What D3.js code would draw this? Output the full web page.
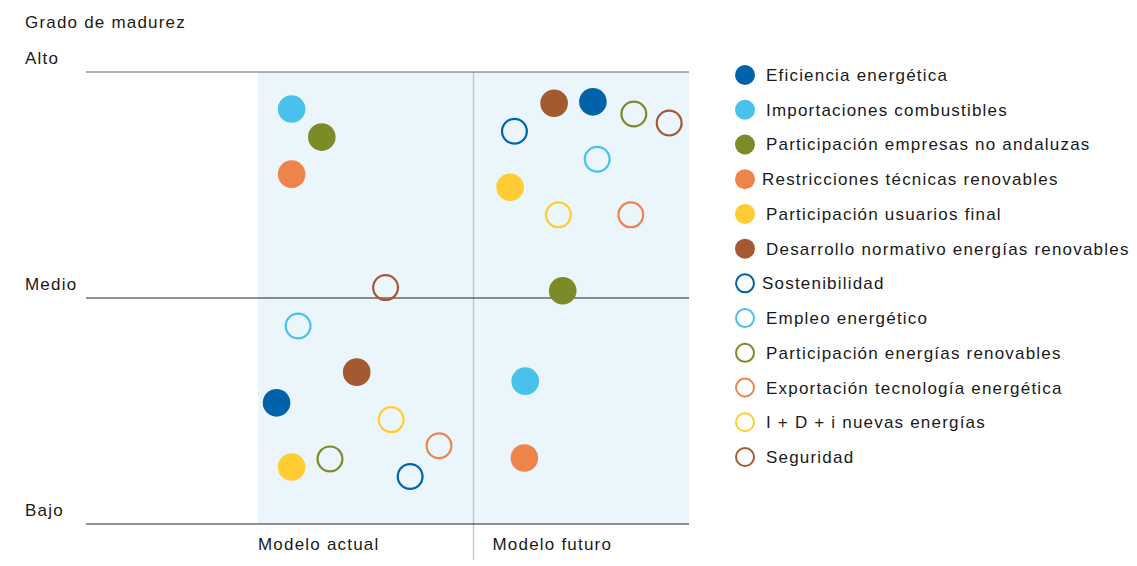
<!DOCTYPE html>
<html><head><meta charset="utf-8">
<script src="https://cdn.jsdelivr.net/npm/d3@7"></script>
<style>body{margin:0;background:#fff;} text{font-family:"Liberation Sans",Arial,sans-serif;fill:#1a1a1a;}</style>
</head><body>
<svg id="c" width="1137" height="566"></svg>
<script>
const series = ["Eficiencia energética","Importaciones combustibles","Participación empresas no andaluzas","Restricciones técnicas renovables","Participación usuarios final","Desarrollo normativo energías renovables","Sostenibilidad","Empleo energético","Participación energías renovables","Exportación tecnología energética","I + D + i nuevas energías","Seguridad"];
const colors = ["#0063a9","#48c1ec","#7c8b27","#ef844a","#ffcc33","#a35a31","#0063a9","#48c1ec","#7c8b27","#ef844a","#ffcc33","#a35a31"];
const filled = [true,true,true,true,true,true,false,false,false,false,false,false];
const models = ["Modelo actual","Modelo futuro"];
const levels = ["Bajo","Medio","Alto"];
// position within each model column (0-100 of whole plot width) and maturity (0-100)
const actualX = [4.3,7.8,14.8,7.8,7.8,22.9,35.3,9.3,16.7,42.0,30.9,29.6];
const actualY = [26.8,91.8,85.6,77.4,12.6,33.6,10.5,43.8,14.4,17.3,23.1,52.3];
const futuroX = [77.7,62.0,70.7,61.8,58.5,68.7,59.5,78.7,87.2,86.5,69.7,95.4];
const futuroY = [93.4,31.6,51.6,14.6,74.5,93.1,86.9,80.7,90.7,68.4,68.4,88.7];

const svg = d3.select("#c");
const x = d3.scaleLinear().domain([0,100]).range([258,689]);
const y = d3.scaleLinear().domain([0,100]).range([524,72]);
const yl = d3.scalePoint().domain(levels).range([524,72]);
const xm = d3.scaleBand().domain(models).range([258,689]);
const LS = 1.2;

svg.append("rect").attr("x",x(0)).attr("y",y(100)).attr("width",x(100)-x(0)).attr("height",y(0)-y(100)).attr("fill","#eaf5fc");
svg.append("line").attr("x1",x(50)).attr("x2",x(50)).attr("y1",y(100)).attr("y2",560).attr("stroke","#c3cad0").attr("stroke-width",1.5);

levels.forEach((l,i)=>{
  svg.append("line").attr("x1",86).attr("x2",689).attr("y1",yl(l)).attr("y2",yl(l))
    .attr("stroke", i===2?"#666":"#222").attr("stroke-width",1.2);
  svg.append("text").attr("x",25).attr("y",yl(l)-8).attr("font-size",17).attr("letter-spacing",LS).text(l);
});
svg.append("text").attr("x",25).attr("y",28).attr("font-size",17).attr("letter-spacing",LS).text("Grado de madurez");
models.forEach(m=>{
  svg.append("text").attr("x",xm(m)+ (m===models[0]?0:19)).attr("y",550).attr("font-size",17).attr("letter-spacing",LS).text(m);
});

function drawPts(xs,ys){
  series.forEach((s,i)=>{
    const c = svg.append("circle").attr("cx",x(xs[i])).attr("cy",y(ys[i]));
    if(filled[i]) c.attr("r",13.8).attr("fill",colors[i]);
    else c.attr("r",12.4).attr("fill","none").attr("stroke",colors[i]).attr("stroke-width",2.2);
  });
}
drawPts(actualX,actualY);
drawPts(futuroX,futuroY);

const lg = d3.scaleLinear().domain([0,11]).range([75,457]);
series.forEach((s,i)=>{
  const c = svg.append("circle").attr("cx",745).attr("cy",lg(i));
  if(filled[i]) c.attr("r",10).attr("fill",colors[i]);
  else c.attr("r",9).attr("fill","none").attr("stroke",colors[i]).attr("stroke-width",2);
  svg.append("text").attr("x",(i===3||i===6)?762:766).attr("y",lg(i)+6).attr("font-size",17).attr("letter-spacing",LS).text(s);
});
</script>
</body></html>
